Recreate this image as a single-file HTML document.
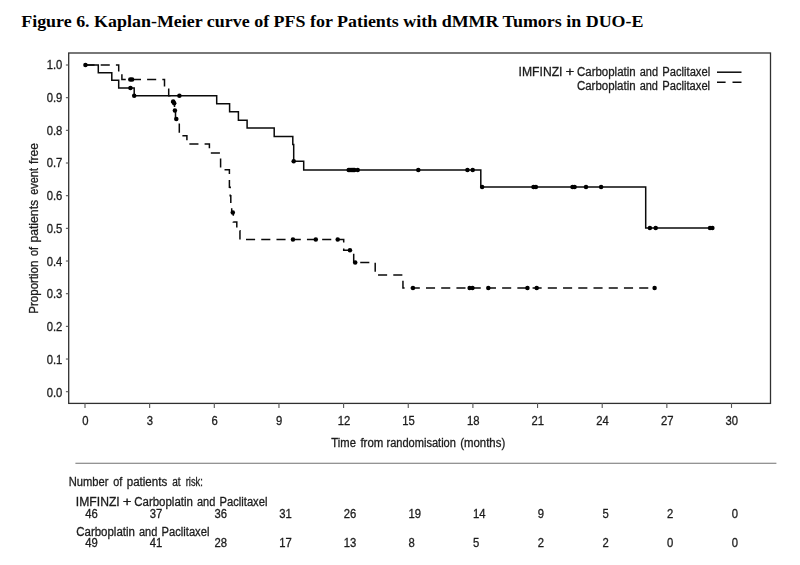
<!DOCTYPE html>
<html><head><meta charset="utf-8"><title>Figure 6</title>
<style>
html,body{margin:0;padding:0;background:#fff;}
body{width:800px;height:565px;overflow:hidden;}
svg{display:block;}
text{font-family:"Liberation Sans",sans-serif;font-size:12px;fill:#1c1c1c;stroke:#1c1c1c;stroke-width:0.3px;}
.ttl{font-family:"Liberation Serif",serif;font-weight:bold;font-size:17px;fill:#000;stroke:none;}
</style></head><body>
<svg width="800" height="565" viewBox="0 0 800 565">
<rect width="800" height="565" fill="#fff"/>
<text class="ttl" x="21.2" y="26.7" textLength="622.3" lengthAdjust="spacingAndGlyphs">Figure 6. Kaplan-Meier curve of PFS for Patients with dMMR Tumors in DUO-E</text>
<mask id="m" maskUnits="userSpaceOnUse" x="0" y="0" width="800" height="565"><rect width="800" height="565" fill="#fff"/></mask><g mask="url(#m)">
<rect x="68.7" y="53.0" width="701.8" height="350.4" fill="none" stroke="#303030" stroke-width="1.3"/>
<g stroke="#555" stroke-width="1.1">
<line x1="65.9" y1="391.70" x2="68.5" y2="391.70"/><line x1="65.9" y1="359.03" x2="68.5" y2="359.03"/><line x1="65.9" y1="326.36" x2="68.5" y2="326.36"/><line x1="65.9" y1="293.69" x2="68.5" y2="293.69"/><line x1="65.9" y1="261.02" x2="68.5" y2="261.02"/><line x1="65.9" y1="228.35" x2="68.5" y2="228.35"/><line x1="65.9" y1="195.68" x2="68.5" y2="195.68"/><line x1="65.9" y1="163.01" x2="68.5" y2="163.01"/><line x1="65.9" y1="130.34" x2="68.5" y2="130.34"/><line x1="65.9" y1="97.67" x2="68.5" y2="97.67"/><line x1="65.9" y1="65.00" x2="68.5" y2="65.00"/><line x1="85.00" y1="403" x2="85.00" y2="407.9"/><line x1="149.65" y1="403" x2="149.65" y2="407.9"/><line x1="214.30" y1="403" x2="214.30" y2="407.9"/><line x1="278.95" y1="403" x2="278.95" y2="407.9"/><line x1="343.60" y1="403" x2="343.60" y2="407.9"/><line x1="408.25" y1="403" x2="408.25" y2="407.9"/><line x1="472.90" y1="403" x2="472.90" y2="407.9"/><line x1="537.55" y1="403" x2="537.55" y2="407.9"/><line x1="602.20" y1="403" x2="602.20" y2="407.9"/><line x1="666.85" y1="403" x2="666.85" y2="407.9"/><line x1="731.50" y1="403" x2="731.50" y2="407.9"/></g>
<text transform="translate(62.30,396.65) scale(0.94,1)" text-anchor="end">0.0</text><text transform="translate(62.30,363.91) scale(0.94,1)" text-anchor="end">0.1</text><text transform="translate(62.30,331.17) scale(0.94,1)" text-anchor="end">0.2</text><text transform="translate(62.30,298.43) scale(0.94,1)" text-anchor="end">0.3</text><text transform="translate(62.30,265.69) scale(0.94,1)" text-anchor="end">0.4</text><text transform="translate(62.30,232.95) scale(0.94,1)" text-anchor="end">0.5</text><text transform="translate(62.30,200.21) scale(0.94,1)" text-anchor="end">0.6</text><text transform="translate(62.30,167.47) scale(0.94,1)" text-anchor="end">0.7</text><text transform="translate(62.30,134.73) scale(0.94,1)" text-anchor="end">0.8</text><text transform="translate(62.30,101.99) scale(0.94,1)" text-anchor="end">0.9</text><text transform="translate(62.30,69.25) scale(0.94,1)" text-anchor="end">1.0</text><text transform="translate(85.30,424.80) scale(0.94,1)" text-anchor="middle">0</text><text transform="translate(149.95,424.80) scale(0.94,1)" text-anchor="middle">3</text><text transform="translate(214.60,424.80) scale(0.94,1)" text-anchor="middle">6</text><text transform="translate(279.25,424.80) scale(0.94,1)" text-anchor="middle">9</text><text transform="translate(343.90,424.80) scale(0.94,1)" text-anchor="middle">12</text><text transform="translate(408.55,424.80) scale(0.94,1)" text-anchor="middle">15</text><text transform="translate(473.20,424.80) scale(0.94,1)" text-anchor="middle">18</text><text transform="translate(537.85,424.80) scale(0.94,1)" text-anchor="middle">21</text><text transform="translate(602.50,424.80) scale(0.94,1)" text-anchor="middle">24</text><text transform="translate(667.15,424.80) scale(0.94,1)" text-anchor="middle">27</text><text transform="translate(731.80,424.80) scale(0.94,1)" text-anchor="middle">30</text>
<text x="331.37" y="447.4" textLength="24.52" lengthAdjust="spacingAndGlyphs">Time</text><text x="360.41" y="447.4" textLength="22.85" lengthAdjust="spacingAndGlyphs">from</text><text x="386.46" y="447.4" textLength="69.45" lengthAdjust="spacingAndGlyphs">randomisation</text><text x="460.24" y="447.4" textLength="44.97" lengthAdjust="spacingAndGlyphs">(months)</text>
<text transform="translate(37.7,313.66) rotate(-90)" textLength="53.09" lengthAdjust="spacingAndGlyphs">Proportion</text><text transform="translate(37.7,256.05) rotate(-90)" textLength="8.95" lengthAdjust="spacingAndGlyphs">of</text><text transform="translate(37.7,242.61) rotate(-90)" textLength="42.75" lengthAdjust="spacingAndGlyphs">patients</text><text transform="translate(37.7,194.86) rotate(-90)" textLength="26.81" lengthAdjust="spacingAndGlyphs">event</text><text transform="translate(37.7,163.95) rotate(-90)" textLength="20.83" lengthAdjust="spacingAndGlyphs">free</text>
<text x="518.64" y="75.6" textLength="43.85" lengthAdjust="spacingAndGlyphs">IMFINZI</text><text x="565.59" y="75.6" textLength="8.82" lengthAdjust="spacingAndGlyphs">+</text><text x="576.98" y="75.6" textLength="58.71" lengthAdjust="spacingAndGlyphs">Carboplatin</text><text x="639.69" y="75.6" textLength="18.31" lengthAdjust="spacingAndGlyphs">and</text><text x="662.32" y="75.6" textLength="47.84" lengthAdjust="spacingAndGlyphs">Paclitaxel</text>
<text x="576.93" y="89.8" textLength="58.71" lengthAdjust="spacingAndGlyphs">Carboplatin</text><text x="639.64" y="89.8" textLength="18.31" lengthAdjust="spacingAndGlyphs">and</text><text x="662.27" y="89.8" textLength="47.84" lengthAdjust="spacingAndGlyphs">Paclitaxel</text>
<line x1="717" y1="72.2" x2="741.5" y2="72.2" stroke="#0a0a0a" stroke-width="1.5"/>
<path d="M717,82.2 H725.6 M732.5,82.2 H741.5" stroke="#0a0a0a" stroke-width="1.5" fill="none"/>
<g transform="translate(0.2,0.2)">
<path d="M85.25,64.9 H118.5 V71.7 H121.7 V79.4 H164.3 V87.5 H168.5 V95.6 H171.5 V102 H174.3 V110.3 H175.3 V118.75 H179.1 V135.5 H186.7 V143.75 H209.2 V152.75 H220.4 V169.5 H229.2 V187 H230 V195.5 H230.6 V204 H231.5 V212.4 H233.1 V221.9 H236.6 V230.5 H239.75 V239.4 H343.5 V250 H353.5 V262.25 H375 V274.9 H402.75 V287.9 H654.4" fill="none" stroke="#0a0a0a" stroke-width="1.5" stroke-dasharray="9.1 6.13" stroke-linejoin="miter"/>
<path d="M85.25,64.9 H98.1 V72.5 H111.6 V80 H118.5 V87.75 H134 V95.5 H216.5 V103.6 H229.4 V111.5 H238.2 V120 H246.9 V127.9 H274 V136.2 H292.6 V144.4 H293.5 V161 H303.5 V169.7 H480.6 V186.9 H645.5 V227.75 H712.2" fill="none" stroke="#0a0a0a" stroke-width="1.5" stroke-linejoin="miter"/>
<g fill="#000"><circle cx="85.25" cy="64.9" r="2.25"/><circle cx="130.25" cy="87.75" r="2.25"/><circle cx="134" cy="95.5" r="2.25"/><circle cx="179.2" cy="95.5" r="2.25"/><circle cx="293.5" cy="161" r="2.25"/><circle cx="348.5" cy="169.7" r="2.25"/><circle cx="349.7" cy="169.7" r="2.25"/><circle cx="350.9" cy="169.7" r="2.25"/><circle cx="352.1" cy="169.7" r="2.25"/><circle cx="353.3" cy="169.7" r="2.25"/><circle cx="354.2" cy="169.7" r="2.25"/><circle cx="357.5" cy="169.7" r="2.25"/><circle cx="418.1" cy="169.7" r="2.25"/><circle cx="467.25" cy="169.7" r="2.25"/><circle cx="472.5" cy="169.7" r="2.25"/><circle cx="481.9" cy="186.9" r="2.25"/><circle cx="533.3" cy="186.9" r="2.25"/><circle cx="535.7" cy="186.9" r="2.25"/><circle cx="572.3" cy="186.9" r="2.25"/><circle cx="574.4" cy="186.9" r="2.25"/><circle cx="585.8" cy="186.9" r="2.25"/><circle cx="600.9" cy="186.9" r="2.25"/><circle cx="649.7" cy="227.75" r="2.25"/><circle cx="655.5" cy="227.75" r="2.25"/><circle cx="709.8" cy="227.75" r="2.25"/><circle cx="712.2" cy="227.75" r="2.25"/><circle cx="130.1" cy="79.4" r="2.25"/><circle cx="131.9" cy="79.4" r="2.25"/><circle cx="173" cy="101.3" r="2.25"/><circle cx="174" cy="103" r="2.25"/><circle cx="174.7" cy="110.3" r="2.25"/><circle cx="176.1" cy="118.75" r="2.25"/><circle cx="232.6" cy="212.4" r="2.25"/><circle cx="292.75" cy="239.4" r="2.25"/><circle cx="315.6" cy="239.4" r="2.25"/><circle cx="337.5" cy="239.4" r="2.25"/><circle cx="349.75" cy="250" r="2.25"/><circle cx="355" cy="262.25" r="2.25"/><circle cx="412.75" cy="287.9" r="2.25"/><circle cx="469.4" cy="287.9" r="2.25"/><circle cx="472.25" cy="287.9" r="2.25"/><circle cx="488.1" cy="287.9" r="2.25"/><circle cx="527.25" cy="287.9" r="2.25"/><circle cx="536.5" cy="287.9" r="2.25"/><circle cx="654.4" cy="287.9" r="2.25"/></g></g>
<line x1="75.4" y1="463.3" x2="776.4" y2="463.3" stroke="#707070" stroke-width="1.1"/>
<text x="68.77" y="486.0" textLength="39.70" lengthAdjust="spacingAndGlyphs">Number</text><text x="113.15" y="486.0" textLength="9.06" lengthAdjust="spacingAndGlyphs">of</text><text x="126.73" y="486.0" textLength="40.48" lengthAdjust="spacingAndGlyphs">patients</text><text x="172.18" y="486.0" textLength="8.41" lengthAdjust="spacingAndGlyphs">at</text><text x="185.68" y="486.0" textLength="17.18" lengthAdjust="spacingAndGlyphs">risk:</text>
<text x="75.89" y="506.0" textLength="43.85" lengthAdjust="spacingAndGlyphs">IMFINZI</text><text x="122.84" y="506.0" textLength="8.82" lengthAdjust="spacingAndGlyphs">+</text><text x="134.23" y="506.0" textLength="58.71" lengthAdjust="spacingAndGlyphs">Carboplatin</text><text x="196.94" y="506.0" textLength="18.31" lengthAdjust="spacingAndGlyphs">and</text><text x="219.57" y="506.0" textLength="47.84" lengthAdjust="spacingAndGlyphs">Paclitaxel</text>
<text x="76.23" y="535.8" textLength="58.71" lengthAdjust="spacingAndGlyphs">Carboplatin</text><text x="138.94" y="535.8" textLength="18.31" lengthAdjust="spacingAndGlyphs">and</text><text x="161.57" y="535.8" textLength="47.84" lengthAdjust="spacingAndGlyphs">Paclitaxel</text>
<text transform="translate(85.20,517.80) scale(0.94,1)" text-anchor="start">46</text><text transform="translate(85.20,546.90) scale(0.94,1)" text-anchor="start">49</text><text transform="translate(149.85,517.80) scale(0.94,1)" text-anchor="start">37</text><text transform="translate(149.85,546.90) scale(0.94,1)" text-anchor="start">41</text><text transform="translate(214.50,517.80) scale(0.94,1)" text-anchor="start">36</text><text transform="translate(214.50,546.90) scale(0.94,1)" text-anchor="start">28</text><text transform="translate(279.15,517.80) scale(0.94,1)" text-anchor="start">31</text><text transform="translate(279.15,546.90) scale(0.94,1)" text-anchor="start">17</text><text transform="translate(343.80,517.80) scale(0.94,1)" text-anchor="start">26</text><text transform="translate(343.80,546.90) scale(0.94,1)" text-anchor="start">13</text><text transform="translate(408.45,517.80) scale(0.94,1)" text-anchor="start">19</text><text transform="translate(408.45,546.90) scale(0.94,1)" text-anchor="start">8</text><text transform="translate(473.10,517.80) scale(0.94,1)" text-anchor="start">14</text><text transform="translate(473.10,546.90) scale(0.94,1)" text-anchor="start">5</text><text transform="translate(537.75,517.80) scale(0.94,1)" text-anchor="start">9</text><text transform="translate(537.75,546.90) scale(0.94,1)" text-anchor="start">2</text><text transform="translate(602.40,517.80) scale(0.94,1)" text-anchor="start">5</text><text transform="translate(602.40,546.90) scale(0.94,1)" text-anchor="start">2</text><text transform="translate(667.05,517.80) scale(0.94,1)" text-anchor="start">2</text><text transform="translate(667.05,546.90) scale(0.94,1)" text-anchor="start">0</text><text transform="translate(731.70,517.80) scale(0.94,1)" text-anchor="start">0</text><text transform="translate(731.70,546.90) scale(0.94,1)" text-anchor="start">0</text>
</g></svg></body></html>
